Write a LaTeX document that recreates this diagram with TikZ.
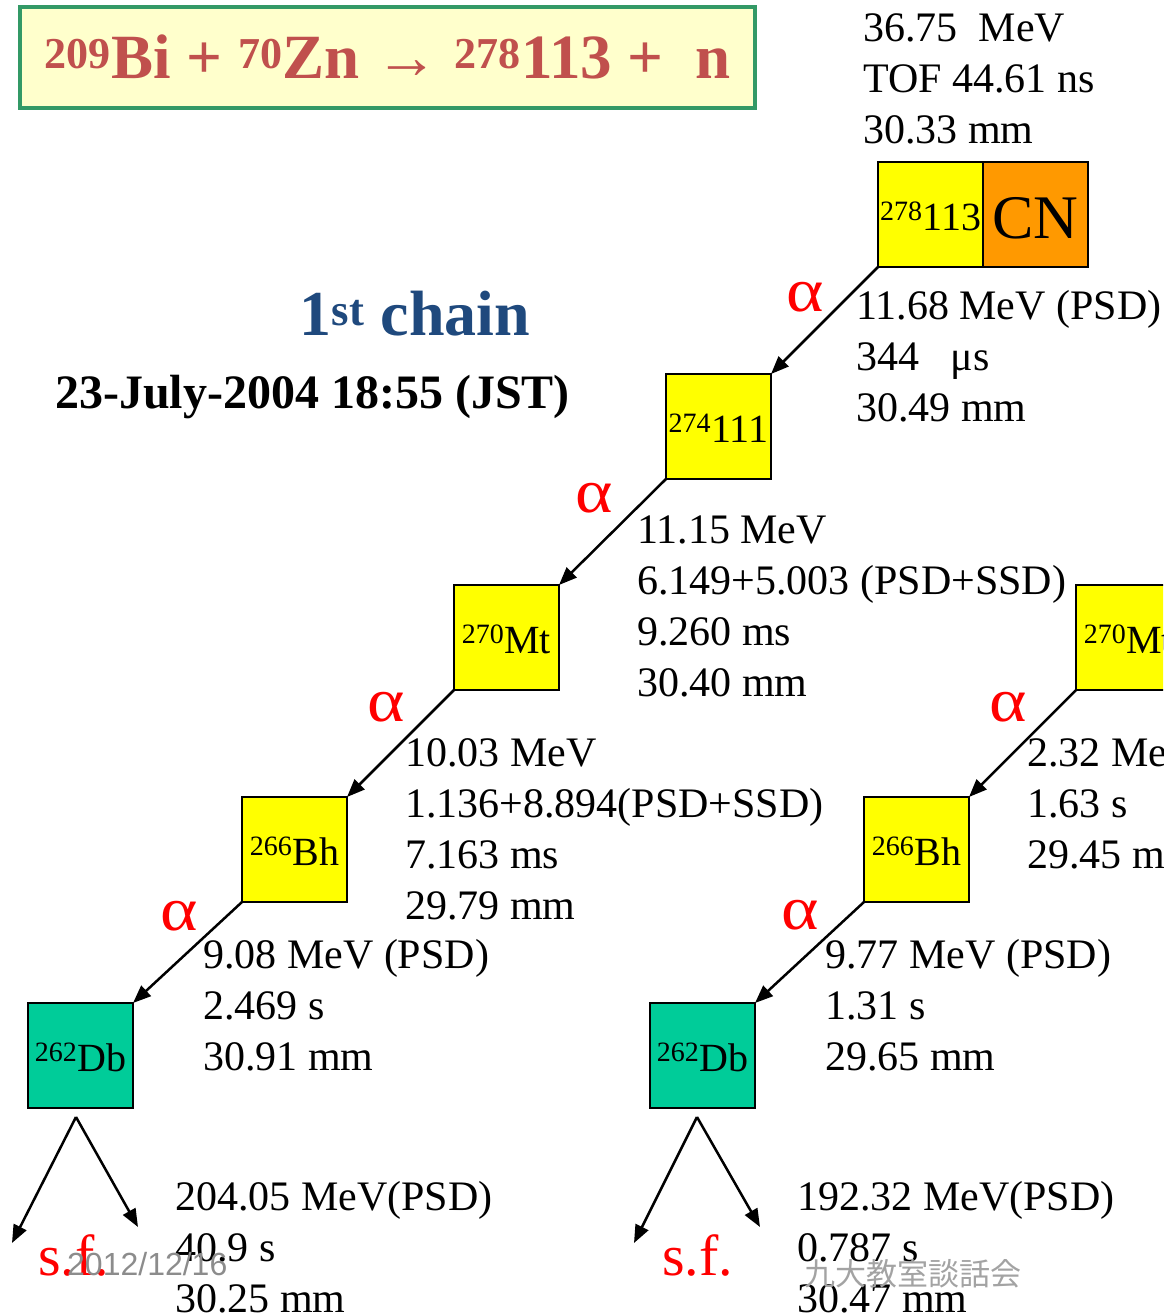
\documentclass[tikz,border=0pt]{standalone}
\usepackage{fontspec}
\setmainfont{Liberation Serif}
\newfontfamily\wmfont{Liberation Sans}
\newfontfamily\cjkfont{Noto Sans CJK JP}
\usetikzlibrary{positioning,arrows.meta}

\definecolor{nucyellow}{RGB}{255,255,0}
\definecolor{cnorange}{RGB}{255,153,0}
\definecolor{dbgreen}{RGB}{0,204,153}
\definecolor{framegreen}{RGB}{51,153,102}
\definecolor{titlefill}{RGB}{255,255,204}
\definecolor{titlered}{RGB}{192,80,77}
\definecolor{chainblue}{RGB}{31,73,125}
\definecolor{wmgray}{RGB}{140,140,140}

\newcommand{\iso}[2]{\textsuperscript{#1}#2}
\newcommand{\alp}{\scalebox{1.15}[1]{α}}

\tikzset{
  nuc/.style={draw=black, line width=2pt, minimum size=105pt, inner sep=0pt, outer sep=0pt,
    text height=31pt, text depth=0pt, font=\fontsize{40}{40}\selectfont},
  yel/.style={nuc, fill=nucyellow},
  cn/.style={nuc, fill=cnorange, text height=47pt, font=\fontsize{62}{62}\selectfont},
  db/.style={nuc, fill=dbgreen},
  info/.style={anchor=base west, align=left, inner sep=0pt, font=\fontsize{42}{51}\selectfont},
  alphalbl/.style={text=red, inner sep=0pt, font=\fontsize{62}{62}\selectfont},
  sflbl/.style={text=red, anchor=base west, inner sep=0pt, font=\fontsize{58}{58}\selectfont},
  decay/.style={-{Triangle[length=18pt,width=14pt]}, line width=2.5pt},
  wmark/.style={text=wmgray, anchor=base west, inner sep=0pt},
}

\begin{document}
\begin{tikzpicture}[x=1pt, y=-1pt]
  \clip (0,0) rectangle (1163,1314);

  % Title

  \node[draw=framegreen, line width=4pt, fill=titlefill, minimum width=735pt, minimum height=101pt,
    inner sep=0pt, text height=41pt, text depth=0pt, text=titlered,
    font=\fontsize{63}{63}\selectfont\bfseries] (reaction) at (387.5,57.5)
    {\iso{209}{Bi} + \iso{70}{Zn} → \iso{278}{113} +~~n};
  \node[anchor=base, inner sep=0pt, text=chainblue, font=\fontsize{64}{64}\selectfont\bfseries] (chain) at (415,335) {1\textsuperscript{st} chain};
  \node[anchor=base west, inner sep=0pt, font=\fontsize{48}{48}\selectfont\bfseries] (date) at (55,408) {23-July-2004 18:55 (JST)};

  % Nodes, first chain

  \node[yel] (n278) at (930.5,214.5) {\iso{278}{113}};
  \node[cn, right=0pt of n278] (cn) {CN};
  \node[yel, below left=107pt and 107pt of n278.south west] (n274) {\iso{274}{111}};
  \node[yel, below left=106pt and 107pt of n274.south west] (n270) {\iso{270}{Mt}};
  \node[yel, below left=107pt and 107pt of n270.south west] (n266) {\iso{266}{Bh}};
  \node[db, below left=101pt and 109pt of n266.south west] (n262) {\iso{262}{Db}};

  % Nodes, second chain

  \node[yel] (m270) at (1128.5,637.5) {\iso{270}{Mt}};
  \node[yel, below left=107pt and 107pt of m270.south west] (m266) {\iso{266}{Bh}};
  \node[db, below left=101pt and 109pt of m266.south west] (m262) {\iso{262}{Db}};

  % Decay data (placed at the baseline of the last line)

  \node[info] (d278) at (863,143) {36.75~~MeV\\TOF 44.61 ns\\30.33 mm};
  \node[info] (d274) at (856,421) {11.68 MeV (PSD)\\344~~~μs\\30.49 mm};
  \node[info] (d270) at (637,696) {11.15 MeV\\6.149+5.003 (PSD+SSD)\\9.260 ms\\30.40 mm};
  \node[info] (d266) at (405,919) {10.03 MeV\\1.136+8.894(PSD+SSD)\\7.163 ms\\29.79 mm};
  \node[info] (d262) at (203,1070) {9.08 MeV (PSD)\\2.469 s\\30.91 mm};
  \node[info] (dsf) at (175,1312) {204.05 MeV(PSD)\\40.9 s\\30.25 mm};
  \node[info] (e266) at (1027,868) {2.32 MeV\\1.63 s\\29.45 mm};
  \node[info] (e262) at (825,1070) {9.77 MeV (PSD)\\1.31 s\\29.65 mm};
  \node[info] (esf) at (797,1312) {192.32 MeV(PSD)\\0.787 s\\30.47 mm};

  % Alpha labels

  \node[alphalbl] (a1) at (805,297) {\alp};
  \node[alphalbl] (a2) at (594,498) {\alp};
  \node[alphalbl] (a3) at (386,707) {\alp};
  \node[alphalbl] (a4) at (179,916) {\alp};
  \node[alphalbl] (b1) at (1008,707) {\alp};
  \node[alphalbl] (b2) at (800,915) {\alp};

  \node[sflbl] (sf1) at (38,1275) {s.f.};
  \node[sflbl] (sf2) at (662,1275) {s.f.};

  % Edges

  \draw[decay] (n278.south west) -- (n274.north east);
  \draw[decay] (n274.south west) -- (n270.north east);
  \draw[decay] (n270.south west) -- (n266.north east);
  \draw[decay] (n266.south west) -- (n262.north east);
  \draw[decay] (m270.south west) -- (m266.north east);
  \draw[decay] (m266.south west) -- (m262.north east);

  \coordinate (f1) at (76,1117);
  \coordinate (f1l) at (12,1243);
  \coordinate (f1r) at (138,1227);
  \coordinate (f2) at (697,1117);
  \coordinate (f2l) at (634,1243);
  \coordinate (f2r) at (760,1227);
  \draw[decay] (f1) -- (f1l);
  \draw[decay] (f1) -- (f1r);
  \draw[decay] (f2) -- (f2l);
  \draw[decay] (f2) -- (f2r);

  % Watermarks

  \node[wmark, font=\wmfont\fontsize{32}{32}\selectfont] (stamp) at (67,1275) {2012/12/16};
  \node[wmark, text=wmgray!80, font=\cjkfont\fontsize{31}{31}\selectfont] (venue) at (804,1285) {九大教室談話会};

\end{tikzpicture}
\end{document}
